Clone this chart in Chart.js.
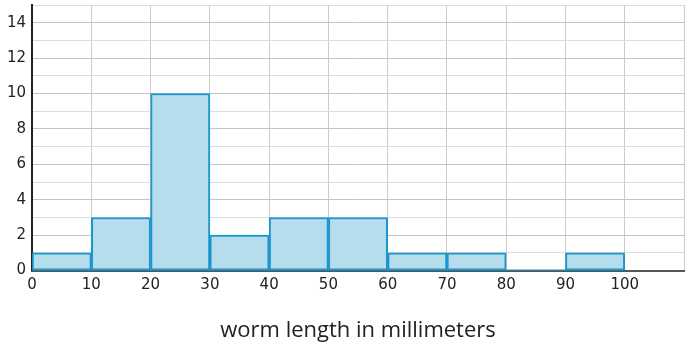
<!DOCTYPE html>
<html>
<head>
<meta charset="utf-8">
<script src="https://cdn.jsdelivr.net/npm/chart.js@4.4.0/dist/chart.umd.min.js"></script>
<style>
  html, body { margin: 0; padding: 0; background: #fff; overflow: hidden; }
  #wrap { width: 690px; height: 354px; position: relative; margin-top: -10px; }
</style>
</head>
<body>
<div id="wrap"><canvas id="hist"></canvas></div>
<script>
// bins of 10 mm, counts per bin
const binStarts = [0, 10, 20, 30, 40, 50, 60, 70, 80, 90];
const counts = [1, 3, 10, 2, 3, 3, 1, 1, 0, 1];
const xTicks = [0, 10, 20, 30, 40, 50, 60, 70, 80, 90, 100];
const binWidth = 10;

const barData = binStarts.map((s, i) => ({ x: s + binWidth / 2, y: counts[i] }));

const ctx = document.getElementById('hist').getContext('2d');
new Chart(ctx, {
  type: 'bar',
  data: {
    datasets: [
      {
        // baseline under the empty bin
        type: 'line',
        data: [{ x: 0, y: 0 }, { x: 100, y: 0 }],
        borderColor: '#1a97cf',
        borderWidth: 2,
        pointRadius: 0,
        order: 0
      },
      {
        data: barData,
        backgroundColor: '#b5ddec',
        borderColor: '#1a97cf',
        borderWidth: 2,
        borderSkipped: false,
        barPercentage: 1,
        categoryPercentage: 1,
        grouped: false,
        order: 1
      }
    ]
  },
  options: {
    responsive: true,
    maintainAspectRatio: false,
    animation: false,
    layout: { padding: { top: 0, right: 0, left: 1, bottom: 0 } },
    plugins: { legend: { display: false }, tooltip: { enabled: false } },
    scales: {
      x: {
        type: 'linear',
        offset: false,
        min: 0,
        max: 110,
        afterBuildTicks: (axis) => {
          axis.ticks = [...xTicks, 110].map(v => ({ value: v }));
        },
        ticks: {
          color: '#222',
          autoSkip: false,
          font: { family: 'DejaVu Sans', size: 15 },
          maxRotation: 0,
          padding: 6,
          callback: (v) => (v <= 100 ? v : '')
        },
        grid: { color: '#cccccc', lineWidth: 1, drawTicks: false, offset: false },
        border: { color: '#555', width: 2 },
        title: {
          display: true,
          text: 'worm length in millimeters',
          color: '#222',
          font: { family: 'Open Sans', size: 22 },
          padding: { top: 17, bottom: 0 }
        }
      },
      y: {
        min: 0,
        max: 15,
        ticks: {
          stepSize: 1,
          autoSkip: false,
          color: '#222',
          font: { family: 'DejaVu Sans', size: 15 },
          padding: 6,
          callback: (v) => (v % 2 === 0 ? v : '')
        },
        grid: {
          drawTicks: false,
          color: (c) => (c.tick && c.tick.value % 2 === 0 ? '#c4c4c4' : '#dcdcdc'),
          lineWidth: 1
        },
        border: { color: '#222', width: 2 }
      }
    }
  }
});
</script>
</body>
</html>
